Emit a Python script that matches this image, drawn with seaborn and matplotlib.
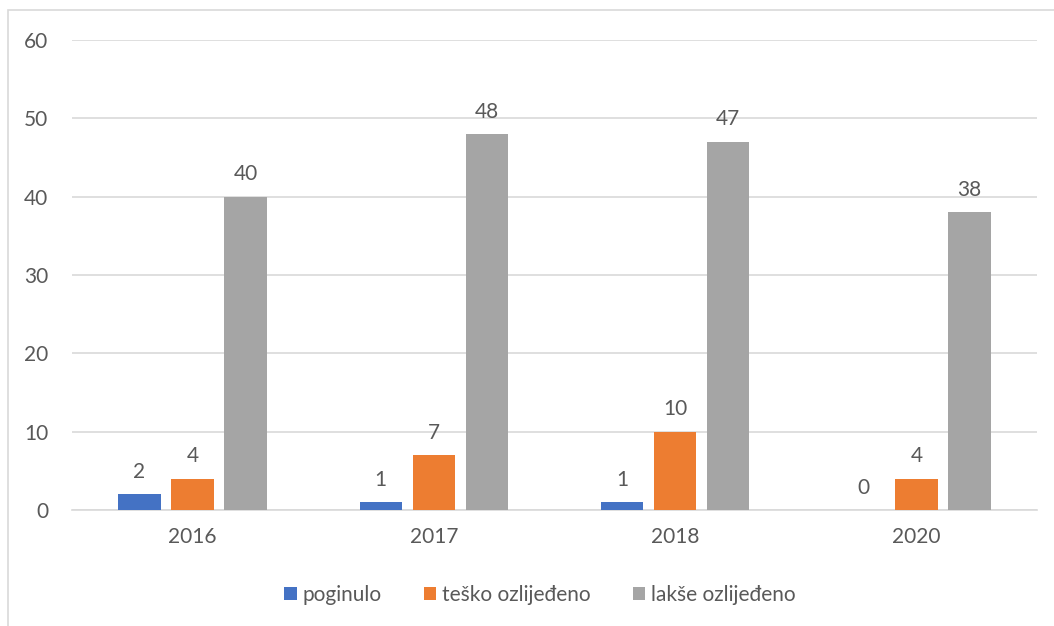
import numpy as np
import pandas as pd
import matplotlib.pyplot as plt
import seaborn as sns
from matplotlib.patches import Rectangle

godine = ['2016', '2017', '2018', '2020']
poginulo = [2, 1, 1, 0]
tesko = [4, 7, 10, 4]
lakse = [40, 48, 47, 38]
serije = ['poginulo', 'teško ozlijeđeno', 'lakše ozlijeđeno']
boje = ['#4472C4', '#ED7D31', '#A5A5A5']

df = pd.DataFrame({'godina': godine * 3,
                   'broj': poginulo + tesko + lakse,
                   'serija': [s for s in serije for _ in godine]})

sns.set_style('white')
plt.rcParams['font.family'] = ['Lato', 'DejaVu Sans']
tekst = '#595959'

fig = plt.figure(figsize=(10.54, 6.26), dpi=100)
ax = fig.add_axes([72 / 1054, 1 - 510 / 626, 965 / 1054, 470 / 626])

sns.barplot(data=df, x='godina', y='broj', hue='serija', palette=boje,
            saturation=1, linewidth=0, width=0.66, gap=0.2,
            errorbar=None, ax=ax, zorder=3)

ax.set_ylim(0, 60)
ax.set_yticks(range(0, 61, 10))
ax.yaxis.grid(True, color='#D9D9D9', linewidth=1.2, zorder=0)
ax.set_axisbelow(True)
for s in ['top', 'right', 'left']:
    ax.spines[s].set_visible(False)
ax.spines['bottom'].set_color('#D9D9D9')
ax.spines['bottom'].set_linewidth(1.2)
ax.tick_params(axis='both', length=0, labelsize=15, colors=tekst)
ax.tick_params(axis='y', pad=17)
ax.tick_params(axis='x', pad=12)
ax.set_xlabel('')
ax.set_ylabel('')

for c in ax.containers:
    ax.bar_label(c, padding=9, fontsize=15, color=tekst)

h, l = ax.get_legend_handles_labels()
ax.legend(h, l, loc='upper center', bbox_to_anchor=(0.485, -0.12), ncol=3,
          frameon=False, fontsize=15, labelcolor=tekst, handlelength=0.6,
          handleheight=0.6, handletextpad=0.3, columnspacing=2.0)

# okvir grafikona
fig.add_artist(Rectangle((8 / 1054, -0.1), 1.2, 1.1 - 10 / 626,
                         transform=fig.transFigure, fill=False,
                         edgecolor='#D9D9D9', linewidth=1.2))

fig.savefig('out.png', dpi=100)
